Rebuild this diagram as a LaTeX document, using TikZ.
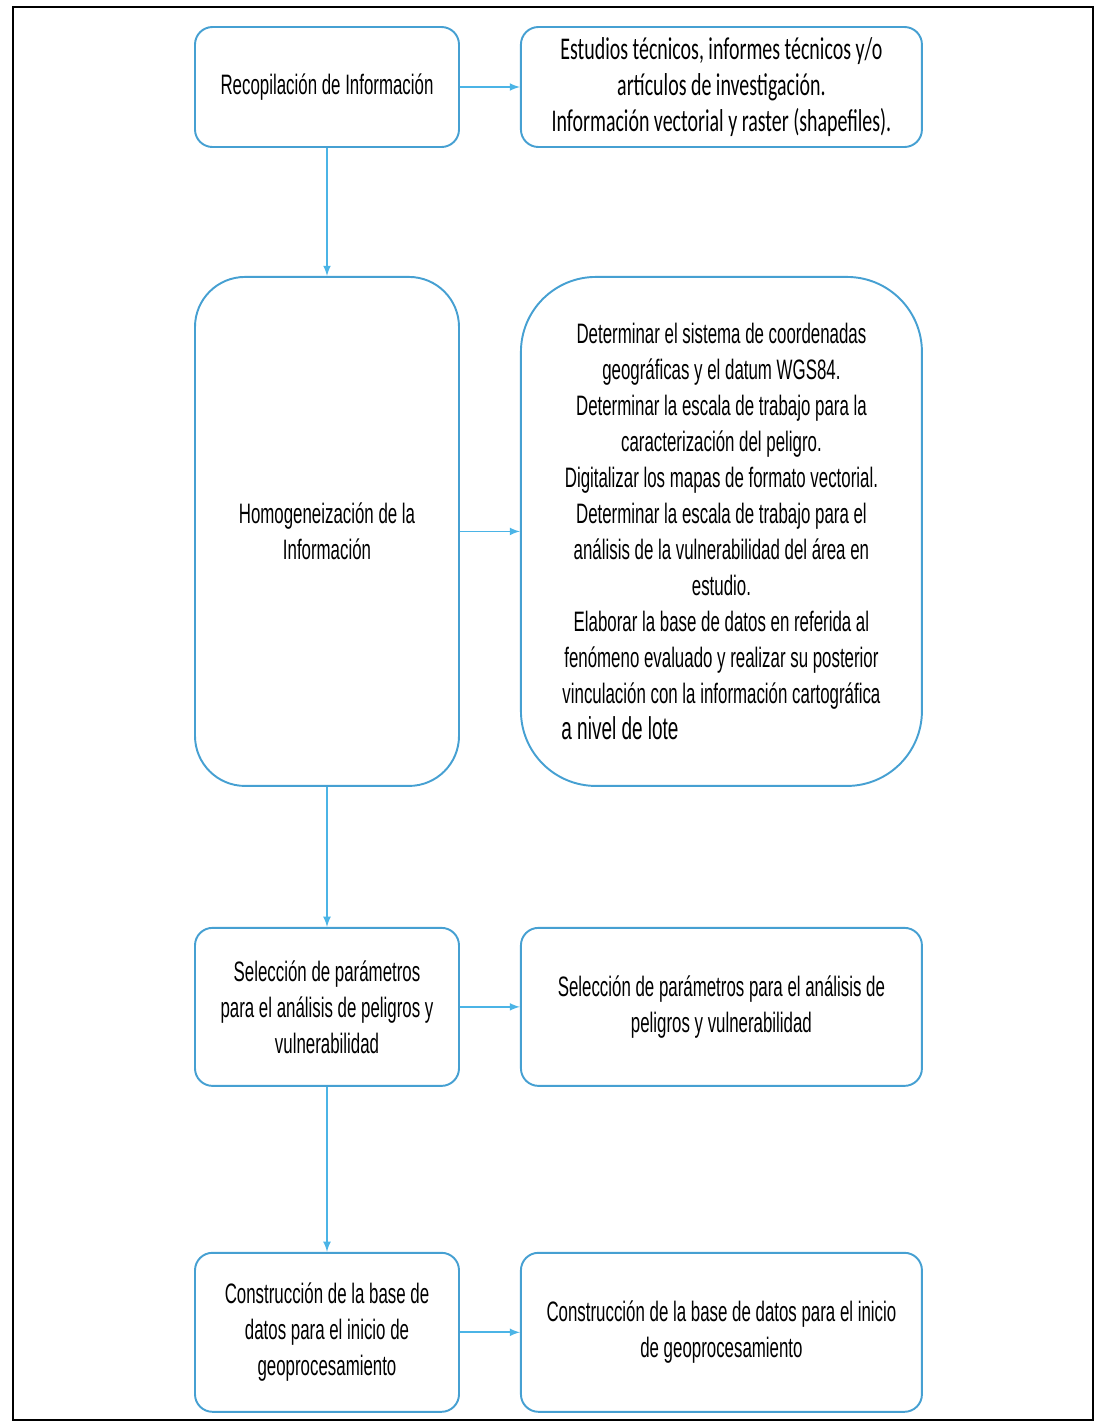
\documentclass[tikz,border=0pt]{standalone}
\usepackage{fontspec}
\usepackage{tikz}
\usetikzlibrary{arrows, positioning}
\setmainfont{Liberation Sans}
\newfontfamily\narrowfont[FakeStretch=0.6]{Liberation Sans}
\newfontfamily\carlitonarrow[FakeStretch=0.63]{Carlito}
\definecolor{boxblue}{RGB}{70,160,210}
\definecolor{arrowblue}{RGB}{75,180,230}

\begin{document}
\begin{tikzpicture}[
    node distance=1.2cm,
    stage/.style={rectangle, rounded corners=0.35cm, minimum width=5.28cm, align=center, draw=boxblue, line width=1.1pt, font=\narrowfont\fontsize{16}{20.5}\selectfont},
    detail/.style={stage, minimum width=8.02cm},
    arrow/.style={->, >=latex, line width=1pt, draw=arrowblue}
]

    % Page and frame
    \useasboundingbox (0,0) rectangle (21.94,-28.48);
    \draw[line width=1.4pt] (0.26,-0.14) rectangle (21.86,-28.4);

    % Left column
    \node[stage, minimum height=2.4cm] (recop) at (6.54,-1.74) {Recopilación de Información};
    \node[stage, minimum height=10.18cm, rounded corners=1cm, below=2.56cm of recop] (homog) {Homogeneización de la\\Información};
    \node[stage, minimum height=3.16cm, below=2.8cm of homog] (selec) {Selección de parámetros\\para el análisis de peligros y\\vulnerabilidad};
    \node[stage, minimum height=3.18cm, below=3.3cm of selec] (constr) {Construcción de la base de\\datos para el inicio de\\geoprocesamiento};

    % Right column
    \node[detail, minimum height=2.4cm, right=of recop, font=\carlitonarrow\fontsize{18}{20.5}\selectfont] (estudios) {Estudios técnicos, informes técnicos y/o\\artículos de investigación.\\Información vectorial y raster (shapefiles).};
    \node[detail, minimum height=10.18cm, rounded corners=1.5cm, right=of homog] (tareas) {Determinar el sistema de coordenadas\\
        geográficas y el datum WGS84.\\
        Determinar la escala de trabajo para la\\
        caracterización del peligro.\\
        Digitalizar los mapas de formato vectorial.\\
        Determinar la escala de trabajo para el\\
        análisis de la vulnerabilidad del área en\\
        estudio.\\
        Elaborar la base de datos en referida al\\
        fenómeno evaluado y realizar su posterior\\
        vinculación con la información cartográfica\\
        \makebox[6.4cm][l]{\fontsize{18}{24}\selectfont a nivel de lote}};
    \node[detail, minimum height=3.16cm, right=of selec] (param) {Selección de parámetros para el análisis de\\peligros y vulnerabilidad};
    \node[detail, minimum height=3.18cm, right=of constr] (basedatos) {Construcción de la base de datos para el inicio\\de geoprocesamiento};

    % Connections
    \draw[arrow] (recop) -- (estudios);
    \draw[arrow] (recop) -- (homog);
    \draw[arrow] (homog) -- (tareas);
    \draw[arrow] (homog) -- (selec);
    \draw[arrow] (selec) -- (param);
    \draw[arrow] (selec) -- (constr);
    \draw[arrow] (constr) -- (basedatos);

\end{tikzpicture}
\end{document}
